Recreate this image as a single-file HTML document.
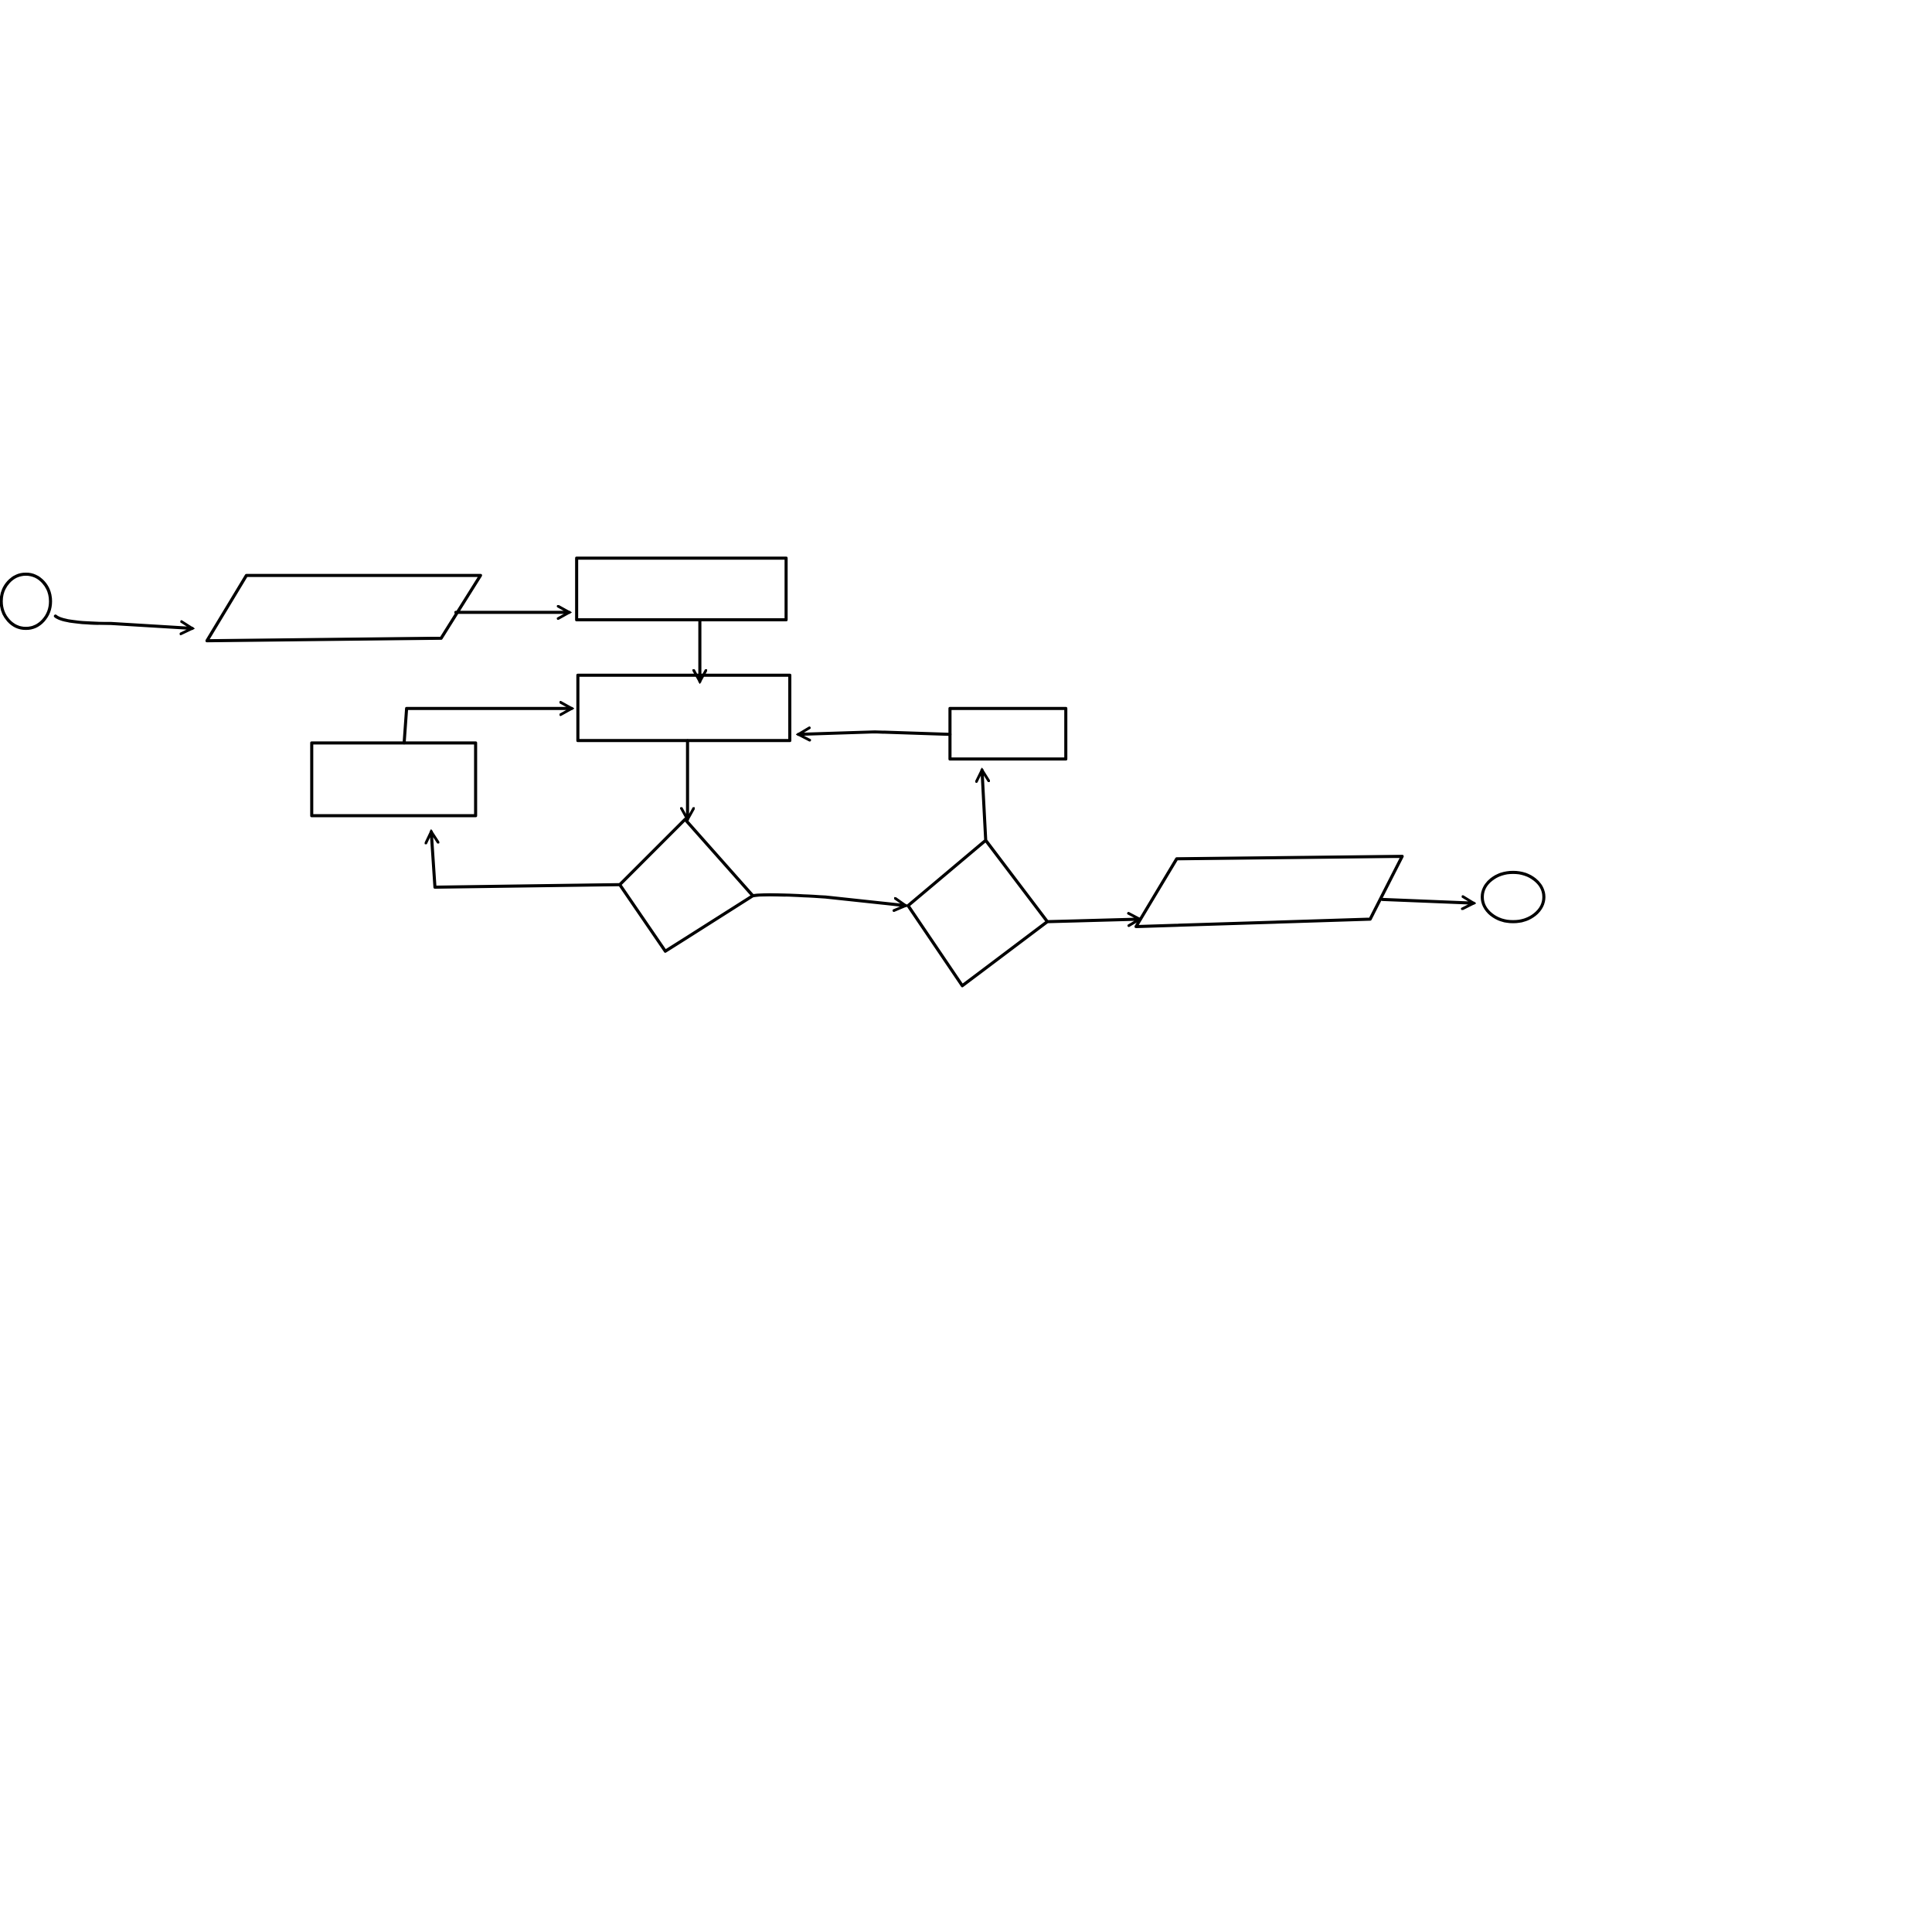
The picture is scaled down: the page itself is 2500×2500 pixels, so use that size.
<!DOCTYPE html>
<html><head><meta charset="utf-8"><style>
html,body{margin:0;padding:0;background:#fff;width:2500px;height:2500px;overflow:hidden}
svg{display:block}
</style></head><body>
<svg width="2500" height="2500" viewBox="0 0 1568 1568" xmlns="http://www.w3.org/2000/svg">
<defs>
<marker id="ah" markerWidth="12" markerHeight="12" refX="10" refY="6" orient="auto" markerUnits="userSpaceOnUse">
<path d="M1,1 L10,6 L1,11" fill="none" stroke="#000" stroke-width="2.2" stroke-linecap="round"/>
</marker>
</defs>
<g fill="none" stroke="#000" stroke-width="2.5" stroke-linejoin="round" stroke-linecap="round">
<ellipse cx="21" cy="488" rx="20" ry="22"/>
<path d="M45,500 Q52,506 90,506 L156,510" marker-end="url(#ah)"/>
<path d="M200,467 L390,467 L358,518 L168,520 Z"/>
<path d="M370,497 L462,497" marker-end="url(#ah)"/>
<rect x="468" y="453" width="170" height="50"/>
<path d="M568,503 L568,553" marker-end="url(#ah)"/>
<rect x="469" y="548" width="172" height="53"/>
<rect x="253" y="603" width="133" height="59"/>
<path d="M328,603 L330,575 L464,575" marker-end="url(#ah)"/>
<rect x="771" y="575" width="94" height="41"/>
<path d="M771,596 L710,594 L648,596" marker-end="url(#ah)"/>
<path d="M558,601 L558,665" marker-end="url(#ah)"/>
<path d="M556,665 L611,727 L540,772 L503,718 Z"/>
<path d="M503,718 L353,720 L350,675" marker-end="url(#ah)"/>
<path d="M611,727 Q620,725 670,728 L735,735" marker-end="url(#ah)"/>
<path d="M800,682 L850,748 L781,800 L737,735 Z"/>
<path d="M800,682 L797,625" marker-end="url(#ah)"/>
<path d="M850,748 L925,746" marker-end="url(#ah)"/>
<path d="M955,697 L1138,695 L1112,746 L922,752 Z"/>
<path d="M1122,730 L1196,733" marker-end="url(#ah)"/>
<ellipse cx="1228" cy="728" rx="25" ry="20"/>
</g>
</svg>
</body></html>
